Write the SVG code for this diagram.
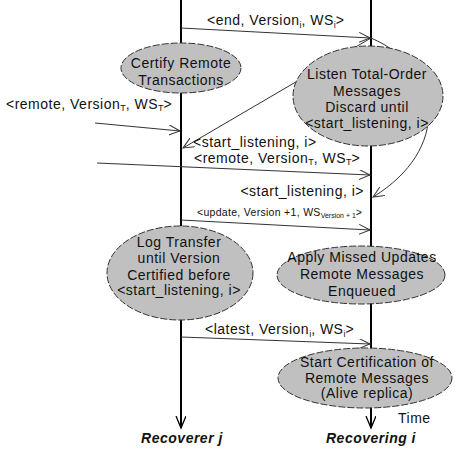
<svg xmlns="http://www.w3.org/2000/svg" width="458" height="452" viewBox="0 0 458 452">
<defs>
<marker id="ah" markerUnits="userSpaceOnUse" markerWidth="14" markerHeight="12" refX="11" refY="5" orient="auto">
<path d="M0,0 L11,5 L0,10" fill="none" stroke="#333" stroke-width="1"/>
</marker>
<marker id="ahv" markerUnits="userSpaceOnUse" markerWidth="14" markerHeight="14" refX="12" refY="5" orient="auto">
<path d="M0,0 L12,5 L0,10" fill="none" stroke="#000" stroke-width="1.3"/>
</marker>
</defs>
<style>
text{font-family:"Liberation Sans",Arial,sans-serif;font-size:14px;letter-spacing:0.5px;fill:#111}
.c{text-anchor:middle}
.sub{font-size:9px;letter-spacing:0}
.node ellipse{fill:#c0c0c0;stroke:#333;stroke-width:1;stroke-dasharray:7 2}
.msg{fill:none;stroke:#333;stroke-width:1;marker-end:url(#ah)}
.life{stroke:#000;stroke-width:2;fill:none;marker-end:url(#ahv)}
.title{font-weight:bold;font-style:italic;font-size:14px;letter-spacing:0.5px}
</style>
<rect width="458" height="452" fill="#fff"/>
<g id="lifelines">
<line class="life" x1="181" y1="0" x2="181" y2="428"/>
<line class="life" x1="371" y1="0" x2="371" y2="428"/>
</g>
<g id="connectors">
<line class="msg" x1="181" y1="28" x2="370" y2="38"/>
<line class="msg" x1="371" y1="38" x2="183" y2="148"/>
<path class="msg" d="M371,38 C445,70 450,150 373,197"/>
<line class="msg" x1="95" y1="123" x2="180" y2="131"/>
<line class="msg" x1="97" y1="163" x2="370" y2="175"/>
<line class="msg" x1="181" y1="220" x2="370" y2="230"/>
<line class="msg" x1="181" y1="337" x2="370" y2="344"/>
</g>
<g id="labels">
<text x="207" y="25">&lt;end, Version<tspan class="sub" dy="3">i</tspan><tspan dy="-3">, WS</tspan><tspan class="sub" dy="3">i</tspan><tspan dy="-3">&gt;</tspan></text>
<text x="6" y="109">&lt;remote, Version<tspan class="sub" dy="2">T</tspan><tspan dy="-2">, WS</tspan><tspan class="sub" dy="2">T</tspan><tspan dy="-2">&gt;</tspan></text>
<text x="193" y="147">&lt;start_listening, i&gt;</text>
<text x="194" y="163">&lt;remote, Version<tspan class="sub" dy="2">T</tspan><tspan dy="-2">, WS</tspan><tspan class="sub" dy="2">T</tspan><tspan dy="-2">&gt;</tspan></text>
<text x="364" y="196" text-anchor="end">&lt;start_listening, i&gt;</text>
<text x="197" y="216" style="font-size:10.5px;letter-spacing:0.3px">&lt;update, Version +1, WS<tspan style="font-size:7px;letter-spacing:0" dy="2">Version + 1</tspan><tspan dy="-2">&gt;</tspan></text>
<text x="205" y="334">&lt;latest, Version<tspan class="sub" dy="3">i</tspan><tspan dy="-3">, WS</tspan><tspan class="sub" dy="3">i</tspan><tspan dy="-3">&gt;</tspan></text>
<text x="398" y="423">Time</text>
<text class="title c" x="182" y="443">Recoverer j</text>
<text class="title c" x="371" y="443">Recovering i</text>
</g>
<g id="certify" class="node">
<ellipse cx="181" cy="68" rx="60" ry="25"/>
<text class="c" x="181" y="68">Certify Remote</text>
<text class="c" x="181" y="85">Transactions</text>
</g>
<g id="listen" class="node">
<ellipse cx="368" cy="96" rx="75" ry="50"/>
<text class="c" x="367" y="79">Listen Total-Order</text>
<text class="c" x="367" y="96">Messages</text>
<text class="c" x="367" y="112">Discard until</text>
<text class="c" x="367" y="128">&lt;start_listening, i&gt;</text>
</g>
<g id="logtransfer" class="node">
<ellipse cx="180" cy="273" rx="73" ry="47"/>
<text class="c" x="179" y="247">Log Transfer</text>
<text class="c" x="179" y="263">until Version</text>
<text class="c" x="179" y="280">Certified before</text>
<text class="c" x="179" y="295">&lt;start_listening, i&gt;</text>
</g>
<g id="apply" class="node">
<ellipse cx="361" cy="275" rx="84" ry="29"/>
<text class="c" x="362" y="262">Apply Missed Updates</text>
<text class="c" x="362" y="279">Remote Messages</text>
<text class="c" x="362" y="296">Enqueued</text>
</g>
<g id="startcert" class="node">
<ellipse cx="365" cy="378" rx="87" ry="30"/>
<text class="c" x="367" y="367">Start Certification of</text>
<text class="c" x="367" y="383">Remote Messages</text>
<text class="c" x="367" y="398">(Alive replica)</text>
</g>
</svg>
